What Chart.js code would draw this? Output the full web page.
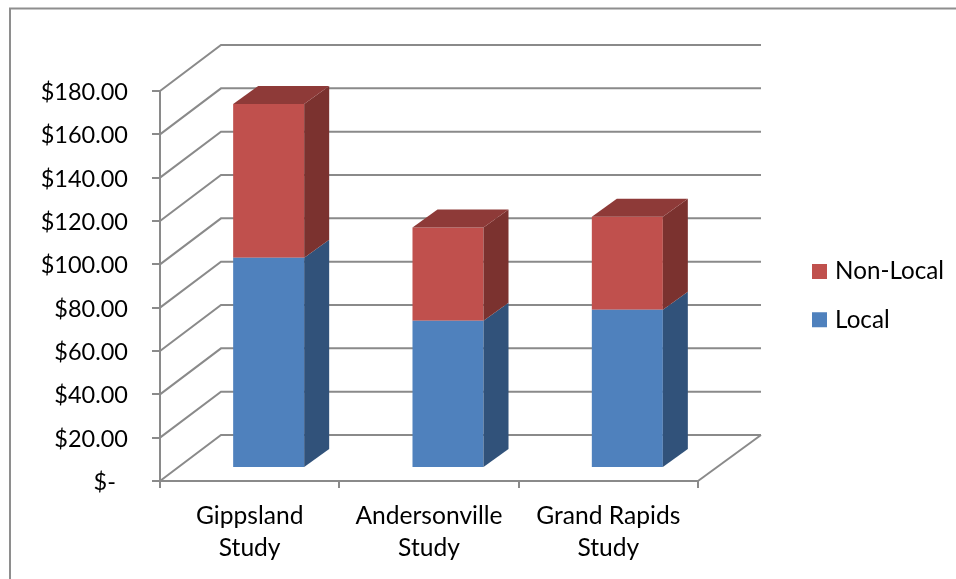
<!DOCTYPE html>
<html>
<head>
<meta charset="utf-8">
<title>Study costs</title>
<script src="https://cdn.jsdelivr.net/npm/chart.js@4/dist/chart.umd.js"></script>
<style>
  html, body { margin: 0; padding: 0; background: #fff; }
  #wrap { position: relative; width: 956px; height: 579px; }
</style>
</head>
<body>
<div id="wrap"><canvas id="costChart" width="956" height="579"></canvas></div>
<script>
const categories = [['Gippsland', 'Study'], ['Andersonville', 'Study'], ['Grand Rapids', 'Study']];
const localCosts = [97, 68, 73];
const nonLocalCosts = [71, 43, 43];
const tickLabels = ['$-\u00A0\u00A0', '$20.00', '$40.00', '$60.00', '$80.00', '$100.00', '$120.00', '$140.00', '$160.00', '$180.00'];

const FONT = 'Lato, sans-serif';
const LINE = '#8a8a8a';

// oblique projection of the box: how far the back wall sits from the front plane
const DEPTH_X = 61;
const DEPTH_Y = -46;
// columns sit partway into the box, with their own shallower depth
const BAR_SHIFT_X = 19;
const BAR_SHIFT_Y = -13;
const BAR_DEPTH_X = 25;
const BAR_DEPTH_Y = -18;

const seriesStyle = [
  { front: '#4F81BD', side: '#31527A', top: '#3B6290' },
  { front: '#C0504D', side: '#7B322F', top: '#8E3A38' }
];

function polygon(ctx, pts, fill) {
  ctx.beginPath();
  pts.forEach((p, i) => (i ? ctx.lineTo(p[0], p[1]) : ctx.moveTo(p[0], p[1])));
  ctx.closePath();
  ctx.fillStyle = fill;
  ctx.fill();
}

const box3d = {
  id: 'box3d',
  afterLayout(chart) {
    // pin the legend to the right of the box
    const lg = chart.legend;
    lg.left = 792;
    lg.right = 956;
    lg.top = 235.5;
    lg.bottom = 420;
    lg.adjustHitBoxes();
  },
  beforeDraw(chart) {
    // frame runs off the right and bottom of the canvas
    const { ctx } = chart;
    ctx.save();
    ctx.strokeStyle = '#8e8e8e';
    ctx.lineWidth = 2;
    ctx.strokeRect(10, 8.5, 960, 640);
    ctx.restore();
  },
  beforeDatasetsDraw(chart) {
    const { ctx, chartArea, scales } = chart;
    const left = chartArea.left;
    const right = chartArea.right;
    ctx.save();
    ctx.strokeStyle = LINE;
    ctx.lineWidth = 2;
    // side wall diagonals and back wall rules, one per value tick
    scales.y.ticks.forEach(t => {
      const y = scales.y.getPixelForValue(t.value);
      ctx.beginPath();
      ctx.moveTo(left, y);
      ctx.lineTo(left + DEPTH_X, y + DEPTH_Y);
      ctx.lineTo(right + DEPTH_X + 2, y + DEPTH_Y);
      ctx.stroke();
    });
    // right edge of the floor
    const y0 = scales.y.getPixelForValue(0);
    ctx.beginPath();
    ctx.moveTo(right, y0);
    ctx.lineTo(right + DEPTH_X + 2, y0 + DEPTH_Y);
    ctx.stroke();
    ctx.restore();

    // front faces get drawn by the library in this shifted frame
    ctx.save();
    ctx.translate(BAR_SHIFT_X, BAR_SHIFT_Y);
  },
  afterDatasetsDraw(chart) {
    const { ctx } = chart;
    const last = chart.data.datasets.length - 1;
    chart.data.datasets.forEach((ds, i) => {
      chart.getDatasetMeta(i).data.forEach(bar => {
        const { x, y, base, width } = bar.getProps(['x', 'y', 'base', 'width'], true);
        const r = x + width / 2;
        const l = x - width / 2;
        polygon(ctx, [[r, y], [r + BAR_DEPTH_X, y + BAR_DEPTH_Y], [r + BAR_DEPTH_X, base + BAR_DEPTH_Y], [r, base]], seriesStyle[i].side);
        if (i === last) {
          polygon(ctx, [[l, y], [l + BAR_DEPTH_X, y + BAR_DEPTH_Y], [r + BAR_DEPTH_X, y + BAR_DEPTH_Y], [r, y]], seriesStyle[i].top);
        }
      });
    });
    ctx.restore();
  }
};

new Chart(document.getElementById('costChart'), {
  type: 'bar',
  data: {
    labels: categories,
    datasets: [
      { label: 'Local', data: localCosts, backgroundColor: seriesStyle[0].front, borderWidth: 0 },
      { label: 'Non-Local', data: nonLocalCosts, backgroundColor: seriesStyle[1].front, borderWidth: 0 }
    ]
  },
  options: {
    responsive: false,
    animation: false,
    barPercentage: 0.396,
    categoryPercentage: 1,
    layout: { padding: { top: 91, right: 258, bottom: 0, left: 0 } },
    plugins: {
      legend: {
        position: 'chartArea',
        align: 'start',
        reverse: true,
        labels: {
          usePointStyle: true,
          pointStyle: 'rect',
          boxWidth: 7,
          boxHeight: 15,
          padding: 24,
          color: '#000',
          font: { family: FONT, size: 24.2 }
        }
      },
      tooltip: { enabled: false }
    },
    scales: {
      x: {
        stacked: true,
        afterFit: s => { s.height = 98; },
        border: { color: LINE, width: 2 },
        grid: { drawOnChartArea: false, color: LINE, lineWidth: 2, tickLength: 7 },
        ticks: {
          color: '#000',
          padding: 12,
          maxRotation: 0,
          font: { family: FONT, size: 24.6, lineHeight: 1.3 }
        }
      },
      y: {
        stacked: true,
        min: 0,
        max: 180,
        afterFit: s => { s.width = 160; },
        border: { color: LINE, width: 2 },
        grid: { drawOnChartArea: false, color: LINE, lineWidth: 2, tickLength: 8 },
        ticks: {
          stepSize: 20,
          color: '#000',
          padding: 24,
          labelOffset: 1.5,
          font: { family: FONT, size: 23.5 },
          callback: (v, i) => tickLabels[i]
        }
      }
    }
  },
  plugins: [box3d]
});
</script>
</body>
</html>
